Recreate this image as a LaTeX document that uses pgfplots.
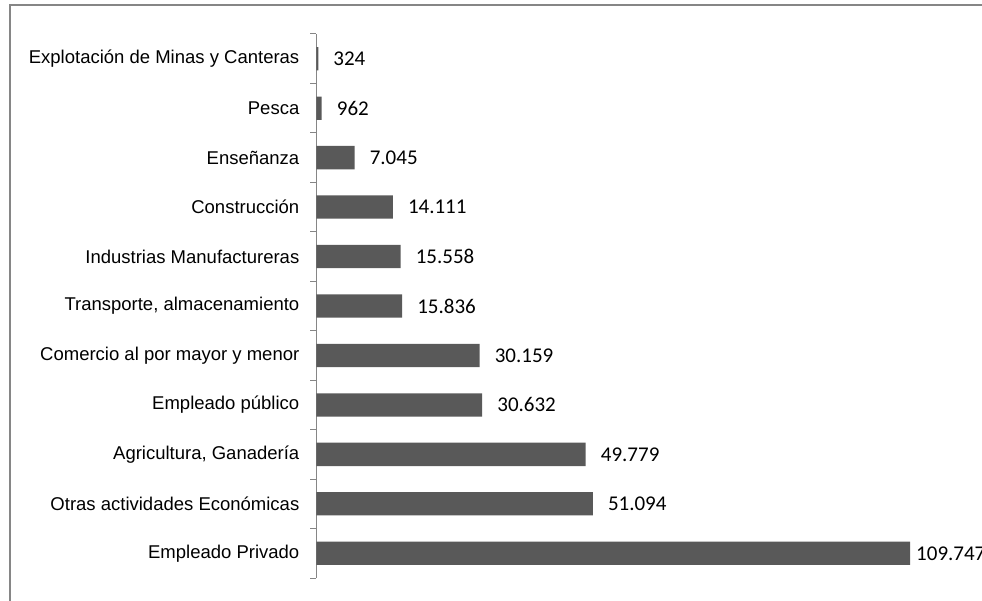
\documentclass[border=0pt]{standalone}
\usepackage{pgfplots}
\pgfplotsset{compat=1.18}
\usepackage{fontspec}
\setmainfont{Liberation Sans}
\newfontfamily\carlito{Carlito}
\definecolor{barcol}{HTML}{595959}
\definecolor{axcol}{HTML}{868686}
\begin{document}
\begin{tikzpicture}[x=1pt,y=1pt]
\useasboundingbox (0,0) rectangle (982,600);
\draw[axcol, line width=1.6pt] (10,-5) -- (10,595) -- (990,595);
\begin{axis}[
  at={(316.5pt,22pt)}, anchor=south west,
  scale only axis, width=593.5pt, height=544pt,
  xbar, bar width=23.3pt,
  xmin=0, xmax=109747,
  ymin=-0.5, ymax=10.5,
  axis x line=none,
  axis y line=left,
  axis line style={draw=axcol, line width=1pt, -},
  ytick={0,...,10},
  yticklabels={Empleado Privado, Otras actividades Económicas, {Agricultura, Ganadería}, Empleado público, Comercio al por mayor y menor, {Transporte, almacenamiento}, Industrias Manufactureras, Construcción, Enseñanza, Pesca, Explotación de Minas y Canteras},
  major tick length=0pt,
  minor ytick={-0.5,0.5,...,10.5},
  minor tick length=6pt,
  tick align=outside,
  minor tick style={draw=axcol, line width=1pt},
  yticklabel style={font=\fontsize{18.5}{20}\selectfont, inner sep=0pt, xshift=-17pt},
  point meta=explicit symbolic,
  nodes near coords,
  nodes near coords style={font=\carlito\fontsize{21}{23}\selectfont, anchor=west, inner sep=0pt, xshift=15pt, text=black},
  clip=false,
]
\addplot[fill=barcol, draw=none] coordinates {
  (109747,0) [\hspace*{-9pt}109.747]
  (51094,1) [51.094]
  (49779,2) [49.779]
  (30632,3) [30.632]
  (30159,4) [30.159]
  (15836,5) [15.836]
  (15558,6) [15.558]
  (14111,7) [14.111]
  (7045,8) [7.045]
  (962,9) [962]
  (324,10) [324]
};
\end{axis}
\end{tikzpicture}
\end{document}
